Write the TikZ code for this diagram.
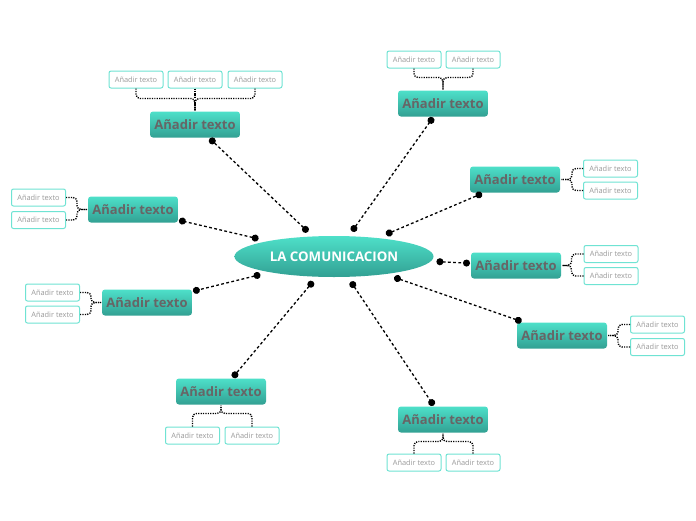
\documentclass[tikz,border=0pt]{standalone}
\usepackage{fontspec}
\setmainfont{Open Sans}
\usetikzlibrary{shapes.geometric,arrows.meta}
\definecolor{tealtop}{HTML}{4EE0C9}
\definecolor{tealbot}{HTML}{32A093}
\definecolor{topictext}{HTML}{676566}
\definecolor{subborder}{HTML}{6FE3D3}
\definecolor{subtext}{HTML}{9A9A9A}
\begin{document}
\begin{tikzpicture}[x=1pt,y=-1pt,
  centre/.style={ellipse,minimum width=199pt,minimum height=41pt,top color=tealtop,bottom color=tealbot,
    text=white,font=\fontsize{13.3}{15}\selectfont\bfseries,outer sep=5pt},
  topic/.style={rectangle,rounded corners=3pt,minimum width=90pt,minimum height=26pt,inner sep=0pt,
    top color=tealtop,bottom color=tealbot,text=topictext,font=\fontsize{13}{15}\selectfont\bfseries,outer sep=1pt},
  subbox/.style={rectangle,draw=subborder,line width=1pt,rounded corners=2pt,fill=white,
    minimum width=54pt,minimum height=17pt,inner sep=0pt,text=subtext,font=\fontsize{7.4}{8}\selectfont},
  link/.style={line width=1.3pt,dash pattern=on 2.8pt off 2.4pt,{Circle[length=7pt]}-{Circle[length=7pt]}},
  bracket/.style={line width=1.4pt,dash pattern=on 1.2pt off 1.2pt,rounded corners=4pt}]
  \useasboundingbox (0,0) rectangle (696,520);
  % centre
  \node[centre] (c) at (334,256.5) {LA COMUNICACION};
  % topics
  \node[topic] (t1) at (195,124.5) {Añadir texto};
  \node[topic] (t2) at (443,103.5) {Añadir texto};
  \node[topic] (t3) at (515,179.5) {Añadir texto};
  \node[topic] (t4) at (133,209.5) {Añadir texto};
  \node[topic] (t5) at (516,265.5) {Añadir texto};
  \node[topic] (t6) at (147,302.5) {Añadir texto};
  \node[topic] (t7) at (562,335.5) {Añadir texto};
  \node[topic] (t8) at (221,391.5) {Añadir texto};
  \node[topic] (t9) at (443,419.5) {Añadir texto};
  \foreach \t in {t1,t2,t3,t4,t5,t6,t7,t8,t9}
    \draw[link] (c) -- (\t);
  % subtopics
  \node[subbox] (t1a) at (136,79.5) {Añadir texto};
  \node[subbox] (t1b) at (195,79.5) {Añadir texto};
  \node[subbox] (t1c) at (255,79.5) {Añadir texto};
  \node[subbox] (t2a) at (414,59.5) {Añadir texto};
  \node[subbox] (t2b) at (473,59.5) {Añadir texto};
  \node[subbox] (t3a) at (610.5,168.5) {Añadir texto};
  \node[subbox] (t3b) at (610.5,190.5) {Añadir texto};
  \node[subbox] (t4a) at (38.5,197.5) {Añadir texto};
  \node[subbox] (t4b) at (38.5,220) {Añadir texto};
  \node[subbox] (t5a) at (611,254) {Añadir texto};
  \node[subbox] (t5b) at (611,276) {Añadir texto};
  \node[subbox] (t6a) at (52.5,292.5) {Añadir texto};
  \node[subbox] (t6b) at (52.5,314.5) {Añadir texto};
  \node[subbox] (t7a) at (657.5,324.5) {Añadir texto};
  \node[subbox] (t7b) at (657.5,347) {Añadir texto};
  \node[subbox] (t8a) at (192.5,435.5) {Añadir texto};
  \node[subbox] (t8b) at (252,435.5) {Añadir texto};
  \node[subbox] (t9a) at (414,462.5) {Añadir texto};
  \node[subbox] (t9b) at (473,462.5) {Añadir texto};
  % brackets
  \foreach \s in {a,b,c}
    \draw[bracket] (t1\s.south) -- ++(0,10) -| (t1.north);
  \foreach \s in {a,b} {
    \draw[bracket] (t2\s.south) -- ++(0,9) -| (t2.north);
    \draw[bracket] (t3\s.west) -- ++(-11,0) |- (t3.east);
    \draw[bracket] (t4\s.east) -- ++(11,0) |- (t4.west);
    \draw[bracket] (t5\s.west) -- ++(-12,0) |- (t5.east);
    \draw[bracket] (t6\s.east) -- ++(11,0) |- (t6.west);
    \draw[bracket] (t7\s.west) -- ++(-12,0) |- (t7.east);
    \draw[bracket] (t8\s.north) -- ++(0,-13) -| (t8.south);
    \draw[bracket] (t9\s.north) -- ++(0,-12) -| (t9.south);
  }
\end{tikzpicture}
\end{document}
